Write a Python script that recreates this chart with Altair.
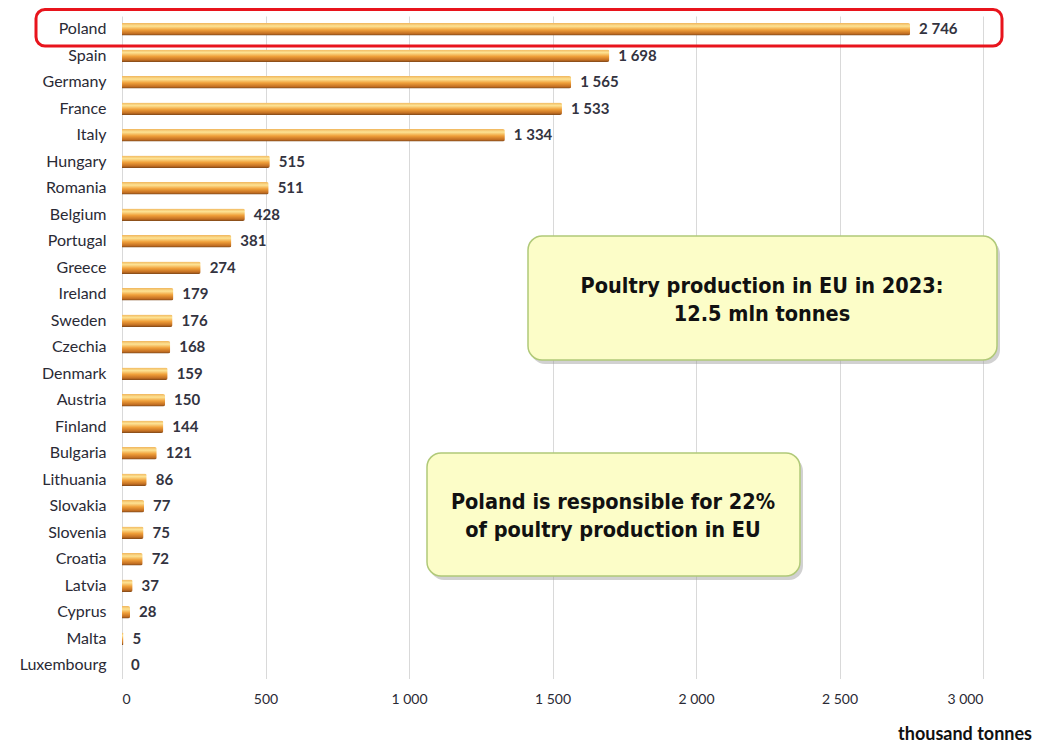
import altair as alt
import pandas as pd

countries = ["Poland", "Spain", "Germany", "France", "Italy", "Hungary", "Romania",
             "Belgium", "Portugal", "Greece", "Ireland", "Sweden", "Czechia", "Denmark",
             "Austria", "Finland", "Bulgaria", "Lithuania", "Slovakia", "Slovenia",
             "Croatia", "Latvia", "Cyprus", "Malta", "Luxembourg"]
values = [2746, 1698, 1565, 1533, 1334, 515, 511, 428, 381, 274, 179, 176, 168, 159,
          150, 144, 121, 86, 77, 75, 72, 37, 28, 5, 0]
x_ticks = [0, 500, 1000, 1500, 2000, 2500, 3000]

note1 = ["Poultry production in EU in 2023:", "12.5 mln tonnes"]
note2 = ["Poland is responsible for 22%", "of poultry production in EU"]
axis_title = "thousand tonnes"

df = pd.DataFrame({"country": countries, "value": values})
df["label"] = [f"{v:,}".replace(",", " ") for v in values]

W, H = 861, 662.5
TOP = 8
LABEL_FONT = "Lato"
NOTE_FONT = "DejaVu Sans Condensed"

grad = {
    "gradient": "linear", "x1": 0, "x2": 0, "y1": 0, "y2": 1,
    "stops": [
        {"offset": 0, "color": "#f0b55c"},
        {"offset": 0.25, "color": "#fde394"},
        {"offset": 0.55, "color": "#f0a03a"},
        {"offset": 0.85, "color": "#c26e22"},
        {"offset": 1, "color": "#7c4618"},
    ],
}

y_enc = alt.Y("country:N", sort=countries,
              scale=alt.Scale(paddingInner=0.53, paddingOuter=0.265),
              axis=alt.Axis(title=None, domain=False, ticks=False, labelPadding=16,
                            labelFontSize=16, labelFont=LABEL_FONT, labelColor="#2a2a35"))
x_enc = alt.X("value:Q", scale=alt.Scale(domain=[0, 3000], nice=False),
              axis=alt.Axis(title=None, values=x_ticks, domain=False, ticks=False,
                            grid=True, gridColor="#d9d9d9", gridWidth=1,
                            labelPadding=14, labelFontSize=14, labelFont=LABEL_FONT,
                            labelColor="#2a2a35",
                            labelExpr="replace(format(datum.value, ','), ',', ' ')"))

one = alt.Data(values=[{}])
OY = 8 + TOP   # page y of plot origin
OX = 122       # page x of plot origin

def box(x, x2, y, y2):
    x, x2, y, y2 = x - OX, x2 - OX, y - OY, y2 - OY
    shadow = alt.Chart(one).mark_rect(cornerRadius=14, fill="#9a9a9a", opacity=0.45).encode(
        x=alt.value(x + 3), x2=alt.value(x2 + 3), y=alt.value(y + 4), y2=alt.value(y2 + 4))
    main = alt.Chart(one).mark_rect(cornerRadius=14, fill="#fcfdc8", stroke="#b0c978",
                                    strokeWidth=1.5).encode(
        x=alt.value(x), x2=alt.value(x2), y=alt.value(y), y2=alt.value(y2))
    return shadow + main

def note(lines, x, y):
    return alt.Chart(one).mark_text(font=NOTE_FONT, fontSize=21.5, fontWeight="bold",
                                    color="#111111", align="center", baseline="middle",
                                    lineHeight=28).encode(
        x=alt.value(x - OX), y=alt.value(y - OY), text=alt.value(lines))

base = alt.Chart(df)
bars = base.mark_bar(color=grad, cornerRadiusEnd=2).encode(x=x_enc, y=y_enc)
labels = base.mark_text(align="left", baseline="middle", dx=9, font=LABEL_FONT,
                        fontSize=15, fontWeight="bold", color="#333340").encode(
    x="value:Q", y=alt.Y("country:N", sort=countries), text="label:N")

red = alt.Chart(one).mark_rect(cornerRadius=9, fill="transparent", stroke="#e8141c",
                               strokeWidth=3).encode(
    x=alt.value(36 - OX), x2=alt.value(1002 - OX), y=alt.value(9.5 - OY), y2=alt.value(46 - OY))

title_txt = alt.Chart(one).mark_text(font=LABEL_FONT, fontSize=18, fontWeight="bold",
                                     color="#111111", align="right", baseline="middle").encode(
    x=alt.value(1032 - OX), y=alt.value(735 - OY), text=alt.value(axis_title))

chart = alt.layer(
    box(528, 997, 236, 360), note(note1, 762, 287),
    box(427, 800, 453, 576), note(note2, 613, 503),
    bars, labels, red, title_txt,
).properties(
    width=W, height=H,
    autosize=alt.AutoSizeParams(type="none"),
    padding={"left": 114, "top": TOP, "right": 60, "bottom": 68},
).configure_view(strokeWidth=0)

chart.save("out.html", embed_options={"renderer": "svg", "actions": False})
